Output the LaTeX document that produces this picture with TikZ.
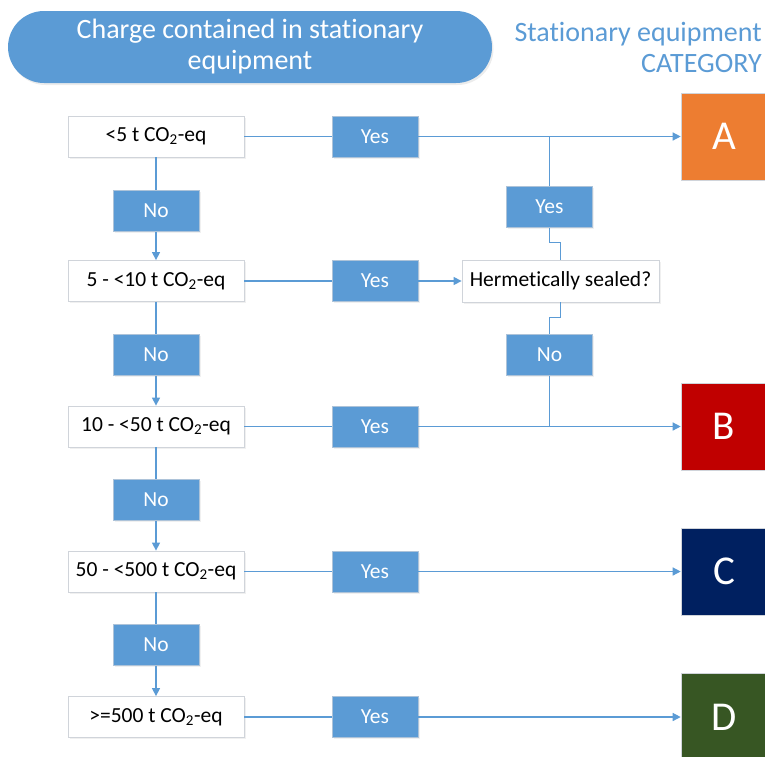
\documentclass[tikz,border=0pt]{standalone}
\usepackage{fontspec}
\setmainfont[Ligatures={NoCommon}]{Carlito}
\usetikzlibrary{arrows.meta,shadows}
\definecolor{mblue}{HTML}{5B9BD5}
\definecolor{catA}{HTML}{ED7D31}
\definecolor{catB}{HTML}{C00000}
\definecolor{catC}{HTML}{002060}
\definecolor{catD}{HTML}{375623}
\definecolor{bord}{HTML}{D0D4DA}
\tikzset{
  cbox/.style={draw=bord, line width=0.8pt, fill=white, minimum width=176pt, minimum height=41pt, inner sep=0pt,
    font=\fontsize{21.5}{24}\selectfont, drop shadow={opacity=0.12, shadow xshift=1.5pt, shadow yshift=-1.5pt}},
  yn/.style={draw=bord!70!mblue, line width=0.6pt, fill=mblue, text=white, minimum width=86pt, minimum height=41pt, inner sep=0pt,
    font=\fontsize{21.5}{24}\selectfont, drop shadow={opacity=0.12, shadow xshift=1.5pt, shadow yshift=-1.5pt}},
  cat/.style={draw=bord, line width=0.6pt, text=white, minimum width=86pt, minimum height=87pt, inner sep=0pt,
    font=\fontsize{41}{44}\selectfont},
  conn/.style={draw=mblue, line width=1.3pt},
  arr/.style={conn, -{Triangle[length=8pt,width=8pt]}},
}
\begin{document}
\begin{tikzpicture}[x=1pt,y=-1pt]
\useasboundingbox (0,0) rectangle (765,756);
\clip (0,0) rectangle (765,756);
% header
\node[fill=mblue, rounded corners=36pt, minimum width=484pt, minimum height=72pt, inner sep=0pt, text=white,
  align=center, font=\fontsize{28}{31}\selectfont,
  drop shadow={opacity=0.15, shadow xshift=1.5pt, shadow yshift=-2pt}] (head) at (250,47)
  {Charge contained in stationary\\equipment};
\node[anchor=east, align=right, text=mblue, inner sep=0pt, font=\fontsize{28}{31}\selectfont] (title) at (762,47)
  {Stationary equipment\\CATEGORY};
% left column
\node[cbox] (c1) at (156,136.5) {<5 t CO\textsubscript{2}-eq};
\node[cbox] (c2) at (156,281) {5 - <10 t CO\textsubscript{2}-eq};
\node[cbox] (c3) at (156,426.5) {10 - <50 t CO\textsubscript{2}-eq};
\node[cbox] (c4) at (156,571.5) {50 - <500 t CO\textsubscript{2}-eq};
\node[cbox] (c5) at (156,717) {>=500 t CO\textsubscript{2}-eq};
% No boxes
\node[yn] (n1) at (156,211) {No};
\node[yn] (n2) at (156,355) {No};
\node[yn] (n3) at (156,500) {No};
\node[yn] (n4) at (156,645) {No};
% Yes boxes
\node[yn] (y1) at (375,136.5) {Yes};
\node[yn] (y2) at (375,281) {Yes};
\node[yn] (y3) at (375,426.5) {Yes};
\node[yn] (y4) at (375,571.5) {Yes};
\node[yn] (y5) at (375,717) {Yes};
% hermetic
\node[cbox, minimum width=197pt, minimum height=42pt] (h) at (560.5,281) {Hermetically sealed?};
\node[yn] (yv) at (549.5,207) {Yes};
\node[yn] (nv) at (549.5,355) {No};
% categories
\node[cat, fill=catA] (A) at (724,136.5) {A};
\node[cat, fill=catB] (B) at (724,426.5) {B};
\node[cat, fill=catC] (C) at (724,571.5) {C};
\node[cat, fill=catD] (D) at (724,717) {D};
% vertical connectors
\draw[conn] (c1) -- (n1);
\draw[arr] (n1) -- (c2);
\draw[conn] (c2) -- (n2);
\draw[arr] (n2) -- (c3);
\draw[conn] (c3) -- (n3);
\draw[arr] (n3) -- (c4);
\draw[conn] (c4) -- (n4);
\draw[arr] (n4) -- (c5);
% horizontal connectors
\draw[conn] (c1) -- (y1);
\draw[arr] (y1) -- (A);
\draw[conn] (c2) -- (y2);
\draw[arr] (y2) -- (h);
\draw[conn] (c3) -- (y3);
\draw[arr] (y3) -- (B);
\draw[conn] (c4) -- (y4);
\draw[arr] (y4) -- (C);
\draw[conn] (c5) -- (y5);
\draw[arr] (y5) -- (D);
% hermetic branches
\coordinate (j1) at (yv.north |- y1);
\draw[conn] (yv.north) -- (j1);
\draw[conn] (h.north) -- ++(0,-17) -| (yv.south);
\draw[conn] (h.south) -- ++(0,15) -| (nv.north);
\coordinate (j2) at (nv.south |- y3);
\draw[conn] (nv.south) -- (j2);
\end{tikzpicture}
\end{document}
